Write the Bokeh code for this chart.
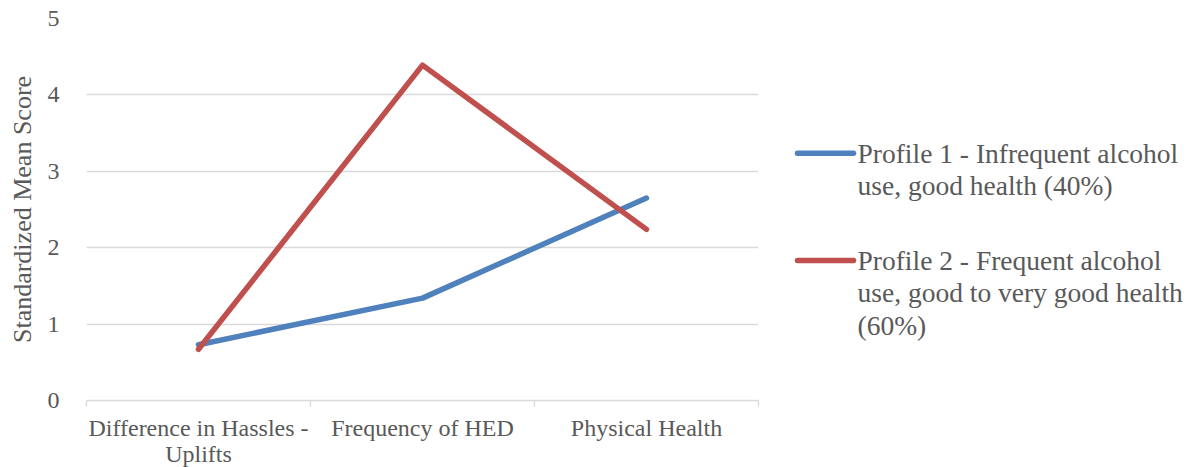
from bokeh.plotting import figure
from bokeh.layouts import row
from bokeh.models import Range1d, FixedTicker
from bokeh.core.properties import value
from bokeh.embed import file_html
from bokeh.resources import INLINE

# Profile means on three indicators
categories = ["Difference in Hassles -\nUplifts", "Frequency of HED", "Physical Health"]
profile1 = [0.73, 1.34, 2.65]
profile2 = [0.67, 4.39, 2.24]
series_names = [
    "Profile 1 - Infrequent alcohol\nuse, good health (40%)",
    "Profile 2 - Frequent alcohol\nuse, good to very good health\n(60%)",
]
series_colors = ["#4F81BD", "#C0504D"]
y_ticks = [0, 1, 2, 3, 4, 5]

FONT = "Liberation Serif"
TEXT_COLOR = "#595959"
GRID_COLOR = "#D9D9D9"

FRAME_TOP, FRAME_H = 18, 382
centers = [i + 0.5 for i in range(len(categories))]
bounds = list(range(len(categories) + 1))

p = figure(
    frame_width=672, frame_height=FRAME_H,
    x_range=Range1d(0, len(categories)), y_range=Range1d(0, 5),
    output_backend="svg", toolbar_location=None,
    min_border_left=86, min_border_right=17, min_border_top=FRAME_TOP,
    min_border_bottom=60,
)
p.outline_line_color = None
p.xgrid.grid_line_color = None
p.ygrid.grid_line_color = GRID_COLOR
p.ygrid.grid_line_width = 1.3

# category axis: labels at the centres, small tick marks between categories
p.xaxis.ticker = FixedTicker(ticks=centers, minor_ticks=bounds)
p.xaxis.major_label_overrides = {c: lab for c, lab in zip(centers, categories)}
p.xaxis.major_tick_in = 0
p.xaxis.major_tick_out = 0
p.xaxis.minor_tick_in = 0
p.xaxis.minor_tick_out = 6
p.xaxis.minor_tick_line_color = GRID_COLOR
p.xaxis.minor_tick_line_width = 1.3
p.xaxis.axis_line_color = GRID_COLOR
p.xaxis.axis_line_width = 1.3
p.xaxis.major_label_text_font = FONT
p.xaxis.major_label_text_font_size = "24px"
p.xaxis.major_label_text_color = TEXT_COLOR
p.xaxis.major_label_text_line_height = 1.0
p.xaxis.major_label_standoff = 8

p.yaxis.ticker = FixedTicker(ticks=y_ticks)
p.yaxis.axis_line_color = None
p.yaxis.major_tick_line_color = None
p.yaxis.minor_tick_line_color = None
p.yaxis.major_label_text_font = FONT
p.yaxis.major_label_text_font_size = "24px"
p.yaxis.major_label_text_color = TEXT_COLOR
p.yaxis.major_label_standoff = 21
p.yaxis.axis_label = "Standardized Mean Score"
p.yaxis.axis_label_text_font = FONT
p.yaxis.axis_label_text_font_size = "26px"
p.yaxis.axis_label_text_font_style = "normal"
p.yaxis.axis_label_text_color = TEXT_COLOR
p.yaxis.axis_label_standoff = 8

for vals, col in zip([profile1, profile2], series_colors):
    p.line(centers, vals, line_color=col, line_width=5.5,
           line_cap="round", line_join="round")

# legend panel to the right of the chart; its frame lines up with the
# chart frame, and its data units are page pixels
LEG_X0, LEG_W = 775, 417
leg = figure(
    frame_width=LEG_W, frame_height=FRAME_H,
    x_range=Range1d(LEG_X0, LEG_X0 + LEG_W),
    y_range=Range1d(FRAME_TOP + FRAME_H, FRAME_TOP),
    output_backend="svg", toolbar_location=None,
    x_axis_type=None, y_axis_type=None,
    min_border_left=0, min_border_right=0,
    min_border_top=FRAME_TOP, min_border_bottom=60,
)
leg.outline_line_color = None
leg.xgrid.grid_line_color = None
leg.ygrid.grid_line_color = None

leg_rows = [152.7, 260.0]
for name, col, yy in zip(series_names, series_colors, leg_rows):
    leg.line([797, 853], [yy, yy], line_color=col, line_width=5.5, line_cap="round")
    leg.text([857], [yy - 15.5], text=[name], text_font=value(FONT),
             text_font_size="27.5px", text_color=TEXT_COLOR,
             text_baseline="top", text_align="left", text_line_height=1.045)

layout = row(p, leg)
open("out.html", "w").write(file_html(layout, INLINE))
